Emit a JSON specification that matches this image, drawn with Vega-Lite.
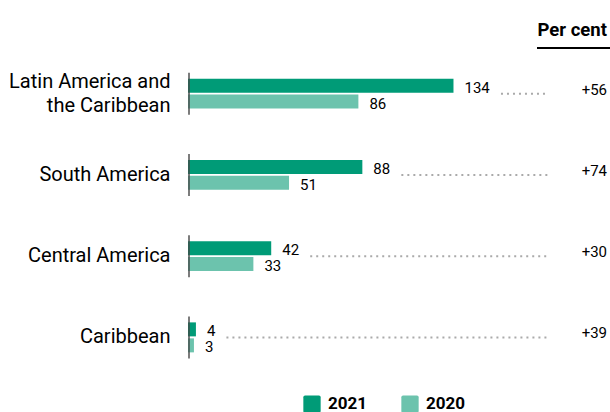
{
  "$schema": "https://vega.github.io/schema/vega-lite/v6.json",
  "width": 422,
  "height": 325,
  "autosize": {"type": "none"},
  "padding": {"left": 188, "top": 53, "right": 0, "bottom": 34},
  "config": {
    "font": "Roboto, sans-serif",
    "view": {"stroke": null}
  },
  "title": {
    "text": "Per cent",
    "anchor": "end",
    "frame": "group",
    "fontSize": 18.5,
    "fontWeight": "bold",
    "color": "#000000",
    "offset": 8,
    "dx": -3
  },
  "data": {
    "values": [
      {"region": "Latin America and the Caribbean", "2021": 134, "2020": 86, "change": "+56"},
      {"region": "South America", "2021": 88, "2020": 51, "change": "+74"},
      {"region": "Central America", "2021": 42, "2020": 33, "change": "+30"},
      {"region": "Caribbean", "2021": 4, "2020": 3, "change": "+39"}
    ]
  },
  "encoding": {
    "y": {
      "field": "region",
      "type": "nominal",
      "sort": ["Latin America and the Caribbean", "South America", "Central America", "Caribbean"],
      "scale": {"paddingInner": 0.631, "paddingOuter": 0.3155},
      "axis": {
        "title": null,
        "domain": false,
        "ticks": false,
        "labelFontSize": 20,
        "labelColor": "#000000",
        "labelPadding": 18,
        "labelLineHeight": 24,
        "labelOffset": {"condition": {"test": "datum.value == 'Latin America and the Caribbean'", "value": -12}, "value": 0},
        "labelExpr": "datum.label == 'Latin America and the Caribbean' ? ['Latin America and', 'the Caribbean'] : datum.label"
      }
    }
  },
  "layer": [
    {
      "transform": [{"fold": ["2021", "2020"], "as": ["year", "value"]}],
      "mark": {"type": "bar"},
      "encoding": {
        "x": {"field": "value", "type": "quantitative", "scale": {"domain": [0, 213], "nice": false, "zero": true}, "axis": null},
        "yOffset": {"field": "year", "type": "nominal", "sort": ["2021", "2020"], "scale": {"paddingInner": 0.125, "paddingOuter": 0}},
        "color": {
          "field": "year",
          "type": "nominal",
          "sort": ["2021", "2020"],
          "scale": {"domain": ["2021", "2020"], "range": ["#009b77", "#6cc3ad"]},
          "legend": {
            "orient": "none",
            "legendX": 115,
            "legendY": 342,
            "direction": "horizontal",
            "title": null,
            "symbolType": "M-0.8,-1 H0.8 A0.2,0.2 0 0 1 1,-0.8 V0.8 A0.2,0.2 0 0 1 0.8,1 H-0.8 A0.2,0.2 0 0 1 -1,0.8 V-0.8 A0.2,0.2 0 0 1 -0.8,-1 Z",
            "symbolSize": 300,
            "symbolOpacity": 1,
            "symbolStrokeWidth": 0,
            "labelFontSize": 17,
            "labelFontWeight": "bold",
            "labelColor": "#000000",
            "labelOffset": 7,
            "columnPadding": 33
          }
        }
      }
    },
    {
      "transform": [{"fold": ["2021", "2020"], "as": ["year", "value"]}],
      "mark": {"type": "text", "align": "left", "baseline": "middle", "dx": 11, "dy": 2, "fontSize": 15, "color": "#000000"},
      "encoding": {
        "x": {"field": "value", "type": "quantitative"},
        "yOffset": {"field": "year", "type": "nominal", "sort": ["2021", "2020"]},
        "text": {"field": "value", "type": "quantitative"}
      }
    },
    {
      "mark": {"type": "tick", "thickness": 2, "size": 42, "color": "#444444", "xOffset": 1},
      "encoding": {
        "x": {"datum": 0}
      }
    },
    {
      "mark": {
        "type": "rule",
        "strokeDash": [2, 4],
        "strokeWidth": 2,
        "color": "#aaaaaa",
        "xOffset": {"expr": "22 + 8.5 * length(toString(datum['2021']))"}
      },
      "encoding": {
        "x": {"field": "2021", "type": "quantitative"},
        "x2": {"datum": 181.7}
      }
    },
    {
      "mark": {"type": "text", "align": "right", "baseline": "middle", "fontSize": 15, "dy": -4, "color": "#000000"},
      "encoding": {
        "x": {"datum": 211.5},
        "text": {"field": "change", "type": "nominal"}
      }
    },
    {
      "mark": {"type": "rule", "strokeWidth": 2, "color": "#000000"},
      "encoding": {
        "x": {"value": 349},
        "x2": {"value": 422},
        "y": {"value": -5}
      }
    }
  ]
}
